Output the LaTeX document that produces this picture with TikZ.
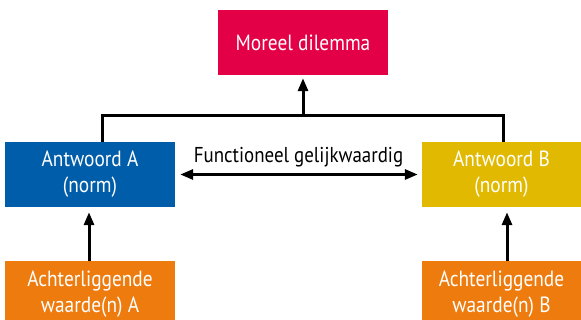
\documentclass[tikz,border=0pt]{standalone}
\usepackage{fontspec}
\setmainfont{PT Sans}[FakeStretch=0.88]
\usetikzlibrary{arrows.meta}
\definecolor{dilemmared}{RGB}{227,0,70}
\definecolor{normblue}{RGB}{0,93,169}
\definecolor{normyellow}{RGB}{225,185,0}
\definecolor{valueorange}{RGB}{238,123,14}

\begin{document}
\begin{tikzpicture}[x=1pt,y=-1pt,
   box/.style={rectangle, inner sep=0pt, text=white, align=center, font=\fontsize{22}{26}\selectfont},
   link/.style={line width=3pt},
   arrow/.style={link, -{Triangle[length=13pt,width=10pt]}},
   both/.style={link, {Triangle[length=13pt,width=10pt]}-{Triangle[length=13pt,width=10pt]}}]
\useasboundingbox (0,0) rectangle (581,320);
\node[box, fill=dilemmared, minimum width=170pt, minimum height=65pt] (dilemma) at (303,42.5) {Moreel dilemma};
\node[box, fill=normblue, minimum width=170pt, minimum height=65pt] (antwA) at (90,174.5) {Antwoord A\\(norm)};
\node[box, fill=normyellow, minimum width=159pt, minimum height=65pt] (antwB) at (501.5,174.5) {Antwoord B\\(norm)};
\node[box, fill=valueorange, minimum width=170pt, minimum height=67pt] (waardeA) at (90,294.5) {Achterliggende\\waarde(n) A};
\node[box, fill=valueorange, minimum width=159pt, minimum height=67pt] (waardeB) at (501.5,294.5) {Achterliggende\\waarde(n) B};
\coordinate (join) at (303,116);
\draw[link] ([xshift=12pt]antwA.north) |- (join) -| ([xshift=1.5pt]antwB.north);
\draw[arrow, shorten >=3pt] (join) -- (dilemma.south);
\draw[both, shorten <=5pt, shorten >=4pt] (antwA.east) -- node[above=3pt, text=black, font=\fontsize{21.5}{24}\selectfont] (gelijk) {Functioneel gelijkwaardig} (antwB.west);
\draw[arrow, shorten >=5pt] ([xshift=-1pt]waardeA.north) -- ([xshift=-1pt]antwA.south);
\draw[arrow, shorten >=5pt] ([xshift=5.5pt]waardeB.north) -- ([xshift=5.5pt]antwB.south);
\end{tikzpicture}
\end{document}
